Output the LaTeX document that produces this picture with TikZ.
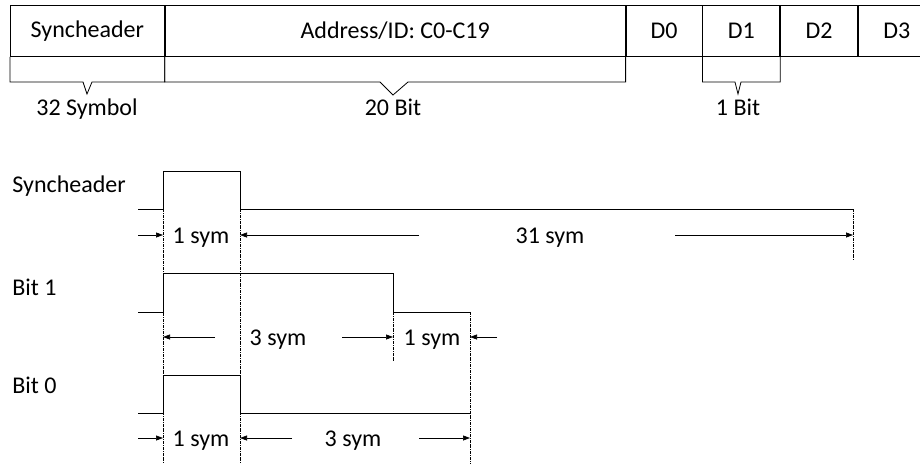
\documentclass[tikz,border=0pt]{standalone}
\usepackage{fontspec}
\setmainfont{Carlito}
\usetikzlibrary{arrows.meta}

\begin{document}
\begin{tikzpicture}[x=1pt, y=-1pt, font=\fontsize{24}{28}\selectfont, line width=0.8pt,
  cell/.style={draw, anchor=north west, minimum height=51pt, inner sep=0pt},
  sig/.style={line width=0.9pt},
  guide/.style={densely dashdotted, line width=0.5pt},
  dimarr/.style={-{Triangle[length=7pt,width=5pt]}, line width=0.7pt},
  tag/.style={anchor=base west, inner sep=0pt},
  dimtxt/.style={anchor=base, inner sep=0pt}]
\useasboundingbox (0,0) rectangle (920,464);

% frame layout
\node[cell, minimum width=154pt] (sync) at (10,5) {Syncheader};
\node[cell, minimum width=460pt] (addr) at (sync.north east) {Address/ID: C0-C19};
\node[cell, minimum width=76pt] (d0) at (addr.north east) {D0};
\node[cell, minimum width=77pt] (d1) at (d0.north east) {D1};
\node[cell, minimum width=77pt] (d2) at (d1.north east) {D2};
\node[cell, minimum width=77pt] (d3) at (d2.north east) {D3};

% brackets below the frame
\draw (sync.south west) |- (83,82) -- (87,94) -- (92,82) -| (sync.south east);
\draw (addr.south west) |- (380,82) -- (393,95) -- (408,82) -| (addr.south east);
\draw (d1.south west) |- (735,82) -- (738,94) -- (741,82) -| (d1.south east);
\node[dimtxt] (nsym) at (87,115) {32 Symbol};
\node[dimtxt] (naddr) at (393,115) {20 Bit};
\node[dimtxt] (nbit) at (738,115) {1 Bit};

% waveforms
\node[tag] (lsync) at (12,192) {Syncheader};
\draw[sig] (138,209) -- (163,209) |- (240,171) |- (853,209);
\node[tag] (lbit1) at (12,295) {Bit 1};
\draw[sig] (138,312) -- (163,312) |- (393,273) |- (470,312);
\node[tag] (lbit0) at (12,393) {Bit 0};
\draw[sig] (138,413) -- (163,413) |- (240,375) |- (470,413);

% guide lines
\foreach \x/\ya/\yb in {163/209/464, 240/209/464, 853/209/260, 393/312/362, 470/312/464}
  \draw[guide] (\x,\ya) -- (\x,\yb);

% durations
\foreach \xa/\xb/\y in {138/163/235, 419/240/235, 675/853/235,
                        215/163/337, 342/393/337, 497/470/337,
                        138/163/438, 292/240/438, 419/470/438}
  \draw[dimarr] (\xa,\y) -- (\xb,\y);
\node[dimtxt] (t1) at (201,243) {1 sym};
\node[dimtxt] (t31) at (550,243) {31 sym};
\node[dimtxt] (t3a) at (278,345) {3 sym};
\node[dimtxt] (t1a) at (432,345) {1 sym};
\node[dimtxt] (t1b) at (201,446) {1 sym};
\node[dimtxt] (t3b) at (353,446) {3 sym};
\end{tikzpicture}
\end{document}
